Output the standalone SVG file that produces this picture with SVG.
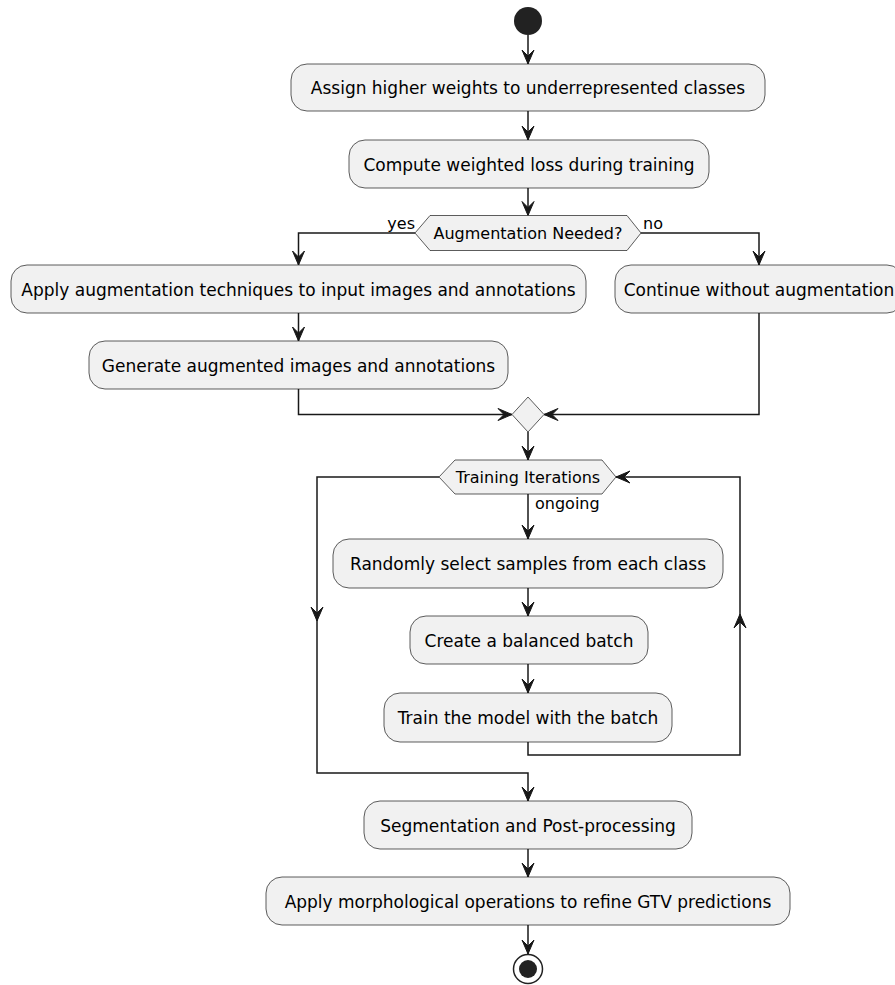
<svg xmlns="http://www.w3.org/2000/svg" width="895" height="985" viewBox="0 0 895 985">
<style>
.box{fill:#F1F1F1;stroke:#181818;stroke-width:0.7}
.t{font-family:"DejaVu Sans",sans-serif;font-size:17px;fill:#000;text-anchor:middle}
.s{font-family:"DejaVu Sans",sans-serif;font-size:16px;fill:#000}
.e{fill:none;stroke:#181818;stroke-width:1.5}
.a{fill:none;stroke:#181818;stroke-width:1.5;marker-end:url(#arr)}
</style>
<defs>
<marker id="arr" markerUnits="userSpaceOnUse" viewBox="-15 -7 16 14" markerWidth="16" markerHeight="14" refX="0" refY="0" orient="auto" overflow="visible">
<path d="M0,0 L-14,-6 L-8,0 L-14,6 Z" fill="#181818" stroke="#181818" stroke-width="1"/>
</marker>
</defs>
<rect width="895" height="985" fill="#FFFFFF"/>
<g id="connectors">
<path class="a" d="M528,35 V64"/>
<path class="a" d="M528,111 V140"/>
<path class="a" d="M528,188 V215.5"/>
<path class="a" d="M415,233 H298.5 V265"/>
<path class="a" d="M641,233 H759 V265"/>
<path class="a" d="M298.5,313 V341"/>
<path class="a" d="M298.5,389 V414.5 H512"/>
<path class="a" d="M759,313 V414.5 H544"/>
<path class="a" d="M528,432 V460"/>
<path class="a" d="M528,494 V539"/>
<path class="a" d="M528,588 V616"/>
<path class="a" d="M528,664 V693"/>
<path class="a" d="M528,742 V755 H740 V614"/>
<path class="a" d="M740,614 V477 H616"/>
<path class="a" d="M439,477 H317 V621"/>
<path class="a" d="M317,621 V773 H528 V801"/>
<path class="a" d="M528,849 V877"/>
<path class="a" d="M528,925 V954"/>
<text class="s" x="415" y="229" text-anchor="end">yes</text>
<text class="s" x="643" y="229">no</text>
<text class="s" x="535" y="509">ongoing</text>
</g>
<g id="start"><circle cx="528" cy="21" r="14" fill="#222222"/></g>
<g id="n1"><rect class="box" x="291" y="64" width="474" height="47" rx="16"/><text class="t" x="528" y="94">Assign higher weights to underrepresented classes</text></g>
<g id="n2"><rect class="box" x="349" y="140" width="360" height="48" rx="16"/><text class="t" x="529" y="170.5">Compute weighted loss during training</text></g>
<g id="d1"><polygon class="box" points="415,233 430,215.5 627,215.5 641,233 627,250.5 430,250.5"/><text class="s" x="528" y="239" text-anchor="middle">Augmentation Needed?</text></g>
<g id="n3"><rect class="box" x="11" y="265" width="575" height="48" rx="16"/><text class="t" x="298.5" y="295.5">Apply augmentation techniques to input images and annotations</text></g>
<g id="n4"><rect class="box" x="615" y="265" width="288" height="48" rx="16"/><text class="t" x="759" y="295.5">Continue without augmentation</text></g>
<g id="n5"><rect class="box" x="89" y="341" width="419" height="48" rx="16"/><text class="t" x="298.5" y="371.5">Generate augmented images and annotations</text></g>
<g id="merge"><polygon class="box" points="528,397 544,414.5 528,432 512,414.5"/></g>
<g id="loop"><polygon class="box" points="439,477 455,460 602,460 616,477 602,494 455,494"/><text class="s" x="528" y="483" text-anchor="middle">Training Iterations</text></g>
<g id="n6"><rect class="box" x="333" y="539" width="390" height="49" rx="16"/><text class="t" x="528" y="570">Randomly select samples from each class</text></g>
<g id="n7"><rect class="box" x="410" y="616" width="238" height="48" rx="16"/><text class="t" x="529" y="646.5">Create a balanced batch</text></g>
<g id="n8"><rect class="box" x="384" y="693" width="288" height="49" rx="16"/><text class="t" x="528" y="724">Train the model with the batch</text></g>
<g id="n9"><rect class="box" x="364" y="801" width="328" height="48" rx="16"/><text class="t" x="528" y="831.5">Segmentation and Post-processing</text></g>
<g id="n10"><rect class="box" x="266" y="877" width="524" height="48" rx="16"/><text class="t" x="528" y="907.5">Apply morphological operations to refine GTV predictions</text></g>
<g id="end"><circle cx="528" cy="969" r="14.5" fill="#FFFFFF" stroke="#222222" stroke-width="1.5"/><circle cx="528" cy="969" r="9" fill="#222222"/></g>
</svg>
